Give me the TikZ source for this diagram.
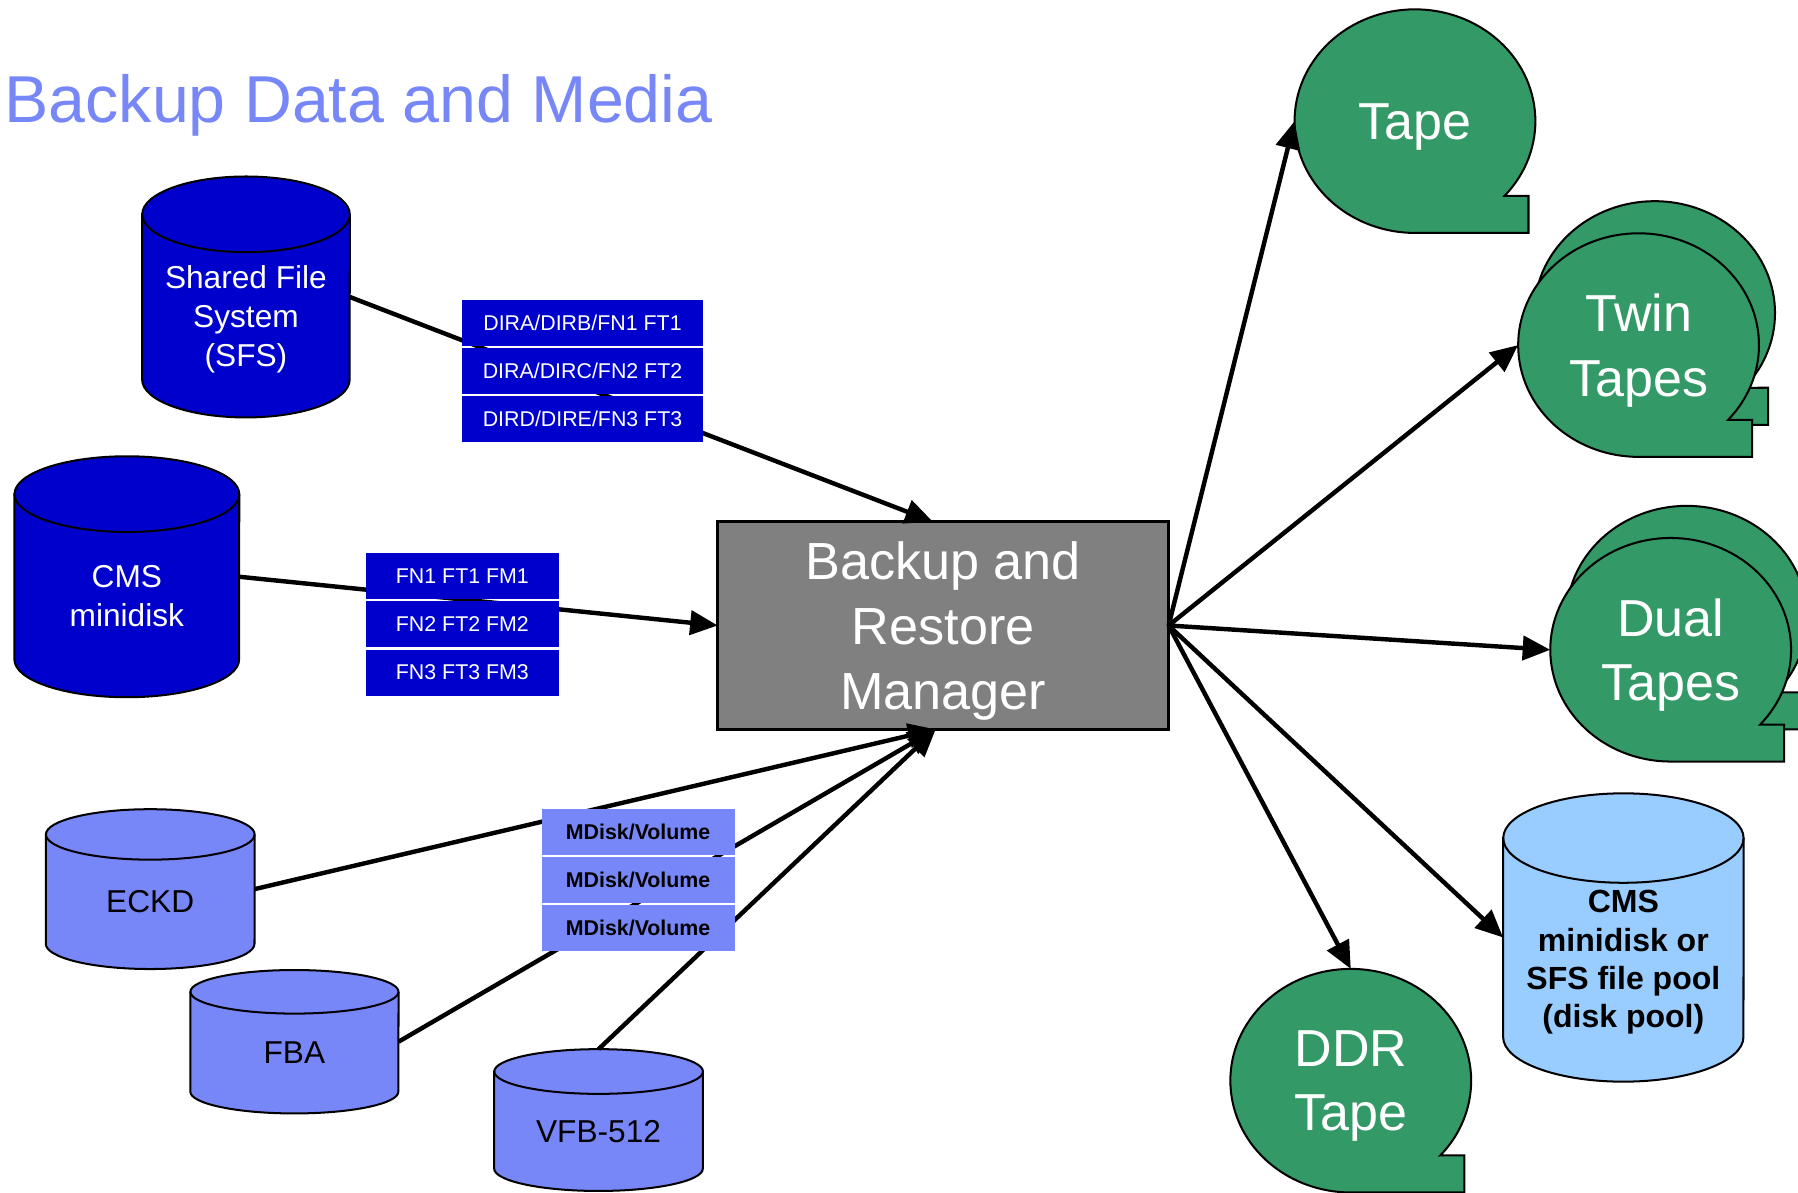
\documentclass[tikz,border=0pt]{standalone}
\usepackage{fontspec}
\setmainfont{Liberation Sans}
\usetikzlibrary{arrows.meta,calc,positioning,shapes.geometric,backgrounds}
\definecolor{DiskClr}{rgb}{0,0,0.8}
\definecolor{VolClr}{rgb}{0.47,0.53,0.97}
\definecolor{PoolClr}{rgb}{0.6,0.8,1}
\definecolor{TapeClr}{rgb}{0.2,0.6,0.4}
\definecolor{MgrClr}{rgb}{0.5,0.5,0.5}

% node, x radius, y radius, fill
\newcommand{\drawcyl}[4]{%
  \path[draw=black,line width=0.5pt,fill=#4] ($(#1.north west)+(0,-#3)$) -- ($(#1.south west)+(0,#3)$)
    arc[start angle=180,end angle=360,x radius=#2,y radius=#3] -- ($(#1.north east)+(0,-#3)$)
    arc[start angle=0,end angle=180,x radius=#2,y radius=#3] -- cycle;
  \draw[line width=0.5pt] ($(#1.north east)+(0,-#3)$) arc[start angle=0,end angle=-180,x radius=#2,y radius=#3];}
\newcommand{\drawtape}[1]{%
  \draw[tapeline] ($(#1.center)+(78,-65.2)$) arc[start angle=-42,end angle=270,x radius=105,y radius=97.5]
    -- ++(99,0) -- ++(0,32.3) -- cycle;}

\begin{document}
\begin{tikzpicture}[x=0.01cm,y=0.01cm,
  every node/.style={inner sep=0pt,outer sep=0pt},
  cylbody/.style={rectangle,draw=none},
  disktext/.style={align=center,text depth=0pt,font=\fontsize{7.85}{9.7}\selectfont},
  boxlbl/.style={rectangle,fill=DiskClr,text=white,minimum height=0.4cm,font=\fontsize{5.3}{6}\selectfont},
  voltag/.style={rectangle,fill=VolClr,minimum width=1.68cm,minimum height=0.4cm,font=\bfseries\fontsize{5.3}{6}\selectfont},
  tapelbl/.style={ellipse,minimum width=2.1cm,minimum height=1.95cm,text=white,align=center,text depth=0pt,font=\fontsize{12.9}{15.9}\selectfont},
  tapeline/.style={draw=black,line width=0.5pt,fill=TapeClr},
  arr/.style={line width=1.1pt,-{Triangle[length=0.24cm,width=0.21cm]}},
  node distance=0.02cm]

\useasboundingbox (0,0) rectangle (1568,1040);

\node[anchor=base west,text=VolClr,font=\fontsize{16.45}{20}\selectfont] (title) at (4,933) {Backup Data and Media};

% disks
\node[cylbody,minimum width=1.81cm,minimum height=2.1cm] (sfs) at (214.5,781) {};
\node[disktext,text=white] (sfs-t) at (214.5,764.5) {Shared File\\System\\(SFS)};
\node[cylbody,minimum width=1.96cm,minimum height=2.1cm] (cms) at (110.6,537) {};
\node[disktext,text=white] (cms-t) at (110.6,520.5) {CMS\\minidisk};
\node[cylbody,minimum width=1.82cm,minimum height=1.393cm] (eckd) at (131,264.6) {};
\node[disktext] (eckd-t) at (131,253.5) {ECKD};
\node[cylbody,minimum width=1.815cm,minimum height=1.25cm] (fba) at (256.75,131.5) {};
\node[disktext] (fba-t) at (256.75,122) {FBA};
\node[cylbody,minimum width=1.82cm,minimum height=1.236cm] (vfb) at (522,63.2) {};
\node[disktext] (vfb-t) at (522,53.5) {VFB-512};
\node[cylbody,minimum width=2.096cm,minimum height=2.513cm] (pool) at (1415.7,222.4) {};
\node[disktext,font=\bfseries\fontsize{7.94}{9.5}\selectfont] (pool-t) at (1415.7,203.5) {CMS\\minidisk or\\SFS file pool\\(disk pool)};

\node[draw=black,line width=0.6pt,fill=MgrClr,minimum width=3.93cm,minimum height=1.81cm,text=white,align=center,text depth=0pt,font=\fontsize{12.95}{16.1}\selectfont] (mgr) at (822.5,494.5) {Backup and\\Restore\\Manager};

% tapes
\node[tapelbl] (tape) at (1234,934.3) {Tape};
\node[tapelbl] (twin) at (1429,739) {Twin\\Tapes};
\node[tapelbl] (dual) at (1457,473.3) {Dual\\Tapes};
\node[tapelbl] (ddr) at (1178,97.5) {DDR\\Tape};
\coordinate (twinback) at ($(twin.center)+(14,28)$);
\coordinate (dualback) at ($(dual.center)+(14,28)$);

\begin{scope}[on background layer]
\drawcyl{sfs}{90.5}{33}{DiskClr}
\drawcyl{cms}{98}{33}{DiskClr}
\drawcyl{eckd}{91}{22}{VolClr}
\drawcyl{fba}{90.75}{19}{VolClr}
\drawcyl{vfb}{91}{19.5}{VolClr}
\drawcyl{pool}{104.8}{39}{PoolClr}
\drawtape{tape}
\drawtape{twinback}
\drawtape{twin}
\drawtape{dualback}
\drawtape{dual}
\drawtape{ddr}
\end{scope}

\draw[arr] (sfs.east) -- ([xshift=-0.09cm]mgr.north);
\draw[arr] (cms.east) -- (mgr.west);
\draw[arr] (eckd.east) -- ([xshift=-0.065cm]mgr.south);
\draw[arr] (fba.east) -- ([xshift=-0.065cm]mgr.south);
\draw[arr] (vfb.north) -- ([xshift=-0.065cm]mgr.south);
\draw[arr] (mgr.east) -- (tape.west);
\draw[arr] (mgr.east) -- (twin.west);
\draw[arr] (mgr.east) -- (dual.west);
\draw[arr] (mgr.east) -- (pool.west);
\draw[arr] (mgr.east) -- (ddr.north);

% file labels
\node[boxlbl,minimum width=2.1cm] (dir1) at (508,758.4) {DIRA/DIRB/FN1 FT1};
\node[boxlbl,minimum width=2.1cm,below=of dir1] (dir2) {DIRA/DIRC/FN2 FT2};
\node[boxlbl,minimum width=2.1cm,below=of dir2] (dir3) {DIRD/DIRE/FN3 FT3};
\node[boxlbl,minimum width=1.685cm] (fn1) at (403.25,537.5) {FN1 FT1 FM1};
\node[boxlbl,minimum width=1.685cm,below=of fn1] (fn2) {FN2 FT2 FM2};
\node[boxlbl,minimum width=1.685cm,below=of fn2] (fn3) {FN3 FT3 FM3};
\node[voltag] (vol1) at (556.5,314.4) {MDisk/Volume};
\node[voltag,below=of vol1] (vol2) {MDisk/Volume};
\node[voltag,below=of vol2] (vol3) {MDisk/Volume};

\end{tikzpicture}
\end{document}
